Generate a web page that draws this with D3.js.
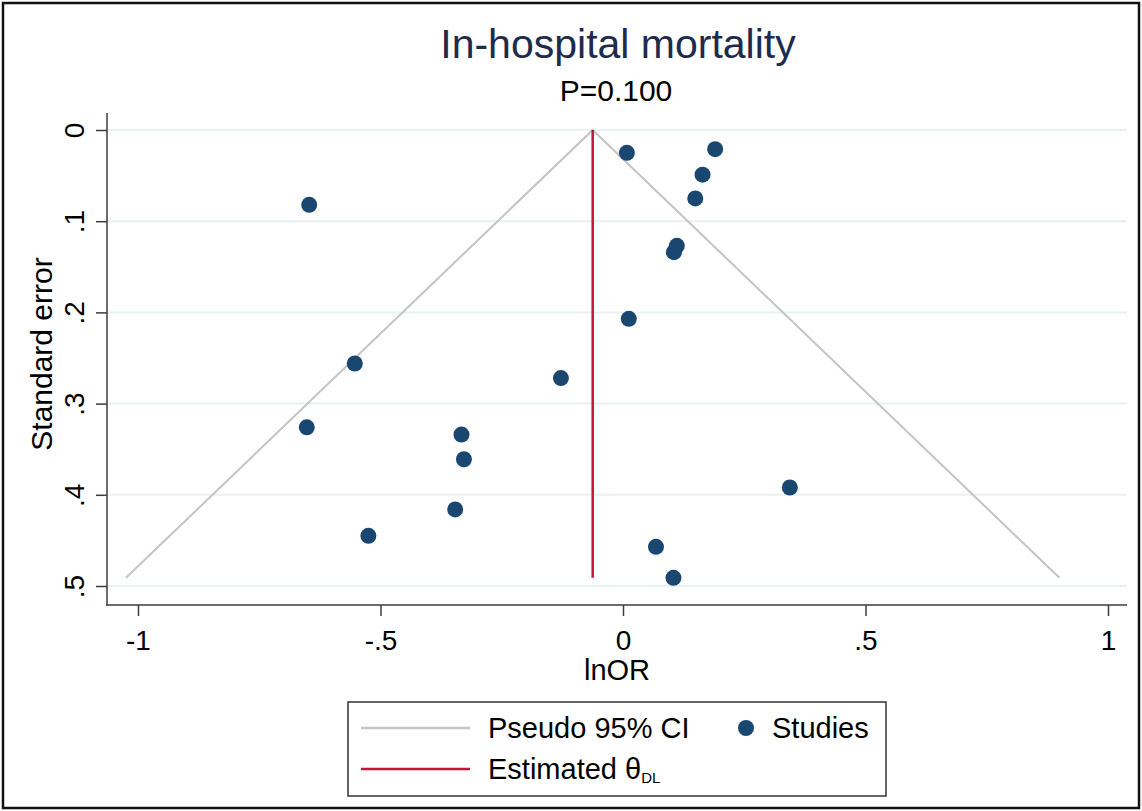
<!DOCTYPE html>
<html>
<head>
<meta charset="utf-8">
<script src="https://cdn.jsdelivr.net/npm/d3@7"></script>
<style>
  html, body { margin: 0; padding: 0; background: #fff; }
  svg { display: block; font-family: "Liberation Sans", Arial, sans-serif; }
</style>
</head>
<body>
<svg id="chart" width="1142" height="811"></svg>
<script>
// ---- data ----
const studyLnOR = [0.008, 0.190, 0.164, 0.149, -0.647, 0.111, 0.105, 0.012, -0.553, -0.128,
                   -0.652, -0.333, -0.328, 0.344, -0.346, -0.525, 0.068, 0.104];
const studySE   = [0.025, 0.021, 0.049, 0.075, 0.082, 0.127, 0.134, 0.207, 0.256, 0.272,
                   0.326, 0.334, 0.361, 0.392, 0.416, 0.445, 0.457, 0.491];
const thetaDL = -0.0625;
const xTicks = [-1, -0.5, 0, 0.5, 1];
const xTickLabels = ["-1", "-.5", "0", ".5", "1"];
const yTicks = [0, 0.1, 0.2, 0.3, 0.4, 0.5];
const yTickLabels = ["0", ".1", ".2", ".3", ".4", ".5"];
const titleText = "In-hospital mortality";
const subtitleText = "P=0.100";
const xTitle = "lnOR";
const yTitle = "Standard error";

// ---- setup ----
const svg = d3.select("#chart");
const W = 1142, H = 811;
const plot = { left: 107, right: 1127, top: 113, bottom: 605 };

const x = d3.scaleLinear().domain([-1, 1]).range([138, 1108]);
const y = d3.scaleLinear().domain([0, 0.5]).range([130, 586]);

const navy = "#1a476f", red = "#c4143a", gray = "#c4c4c4", grid = "#e9f1f3", axisCol = "#3c3c3c";

// outer frame
svg.append("rect").attr("x", 3).attr("y", 3).attr("width", W - 6).attr("height", H - 6)
  .attr("fill", "#fff").attr("stroke", "#111").attr("stroke-width", 2.5);

// gridlines
svg.append("g").selectAll("line").data(yTicks).join("line")
  .attr("x1", plot.left).attr("x2", plot.right)
  .attr("y1", d => y(d)).attr("y2", d => y(d))
  .attr("stroke", grid).attr("stroke-width", 2);

// funnel (pseudo 95% CI)
const seMax = d3.max(studySE);
const funnel = [[thetaDL - 1.96 * seMax, seMax], [thetaDL, 0], [thetaDL + 1.96 * seMax, seMax]];
svg.append("path").datum(funnel)
  .attr("d", d3.line().x(d => x(d[0])).y(d => y(d[1])))
  .attr("fill", "none").attr("stroke", gray).attr("stroke-width", 2);

// estimated theta line
svg.append("line")
  .attr("x1", x(thetaDL)).attr("x2", x(thetaDL))
  .attr("y1", y(0)).attr("y2", y(seMax))
  .attr("stroke", red).attr("stroke-width", 2.5);

// studies
svg.append("g").selectAll("circle").data(studyLnOR.map((v, i) => [v, studySE[i]])).join("circle")
  .attr("cx", d => x(d[0])).attr("cy", d => y(d[1])).attr("r", 8)
  .attr("fill", navy);

// axes
const yAxis = d3.axisLeft(y).tickValues(yTicks).tickSize(11).tickSizeOuter(0)
  .tickFormat((d, i) => yTickLabels[i]);
const gy = svg.append("g").attr("transform", `translate(${plot.left},0)`).call(yAxis);
gy.select(".domain").remove();
gy.selectAll(".tick line").attr("stroke", axisCol).attr("stroke-width", 1.5);
gy.selectAll(".tick text")
  .attr("font-size", 28).attr("fill", "#000")
  .attr("x", 0).attr("y", 0).attr("dy", 0)
  .attr("text-anchor", "middle")
  .attr("transform", "translate(-23,0) rotate(-90)");

const xAxis = d3.axisBottom(x).tickValues(xTicks).tickSize(11).tickSizeOuter(0)
  .tickFormat((d, i) => xTickLabels[i]);
const gx = svg.append("g").attr("transform", `translate(0,${plot.bottom})`).call(xAxis);
gx.select(".domain").remove();
gx.selectAll(".tick line").attr("stroke", axisCol).attr("stroke-width", 1.5);
gx.selectAll(".tick text").attr("font-size", 28).attr("fill", "#000")
  .attr("y", 45).attr("dy", 0);

// axis lines
svg.append("line").attr("x1", plot.left).attr("x2", plot.left)
  .attr("y1", plot.top).attr("y2", plot.bottom + 0.75)
  .attr("stroke", axisCol).attr("stroke-width", 1.5);
svg.append("line").attr("x1", plot.left - 0.75).attr("x2", plot.right)
  .attr("y1", plot.bottom).attr("y2", plot.bottom)
  .attr("stroke", axisCol).attr("stroke-width", 1.5);

// titles
svg.append("text").attr("x", 618).attr("y", 58).attr("text-anchor", "middle")
  .attr("font-size", 41).attr("fill", "#1e2b4c").text(titleText);
svg.append("text").attr("x", 616).attr("y", 101).attr("text-anchor", "middle")
  .attr("font-size", 30).attr("fill", "#000").text(subtitleText);
svg.append("text").attr("x", 617).attr("y", 680).attr("text-anchor", "middle")
  .attr("font-size", 29).attr("fill", "#000").text(xTitle);
svg.append("text").attr("transform", "translate(52,354) rotate(-90)").attr("text-anchor", "middle")
  .attr("font-size", 30).attr("fill", "#000").text(yTitle);

// legend
const lg = svg.append("g");
lg.append("rect").attr("x", 348).attr("y", 702).attr("width", 538).attr("height", 94)
  .attr("fill", "#fff").attr("stroke", "#333").attr("stroke-width", 1.5);
lg.append("line").attr("x1", 361).attr("x2", 470).attr("y1", 728).attr("y2", 728)
  .attr("stroke", gray).attr("stroke-width", 2.5);
lg.append("text").attr("x", 488).attr("y", 738).attr("font-size", 29).attr("fill", "#000")
  .text("Pseudo 95% CI");
lg.append("circle").attr("cx", 746).attr("cy", 728).attr("r", 8).attr("fill", navy);
lg.append("text").attr("x", 772).attr("y", 738).attr("font-size", 29).attr("fill", "#000")
  .text("Studies");
lg.append("line").attr("x1", 361).attr("x2", 470).attr("y1", 769).attr("y2", 769)
  .attr("stroke", red).attr("stroke-width", 2.5);
const est = lg.append("text").attr("x", 488).attr("y", 779).attr("font-size", 29).attr("fill", "#000");
est.append("tspan").text("Estimated θ");
est.append("tspan").attr("font-size", 15).attr("dy", 4).text("DL");
</script>
</body>
</html>
